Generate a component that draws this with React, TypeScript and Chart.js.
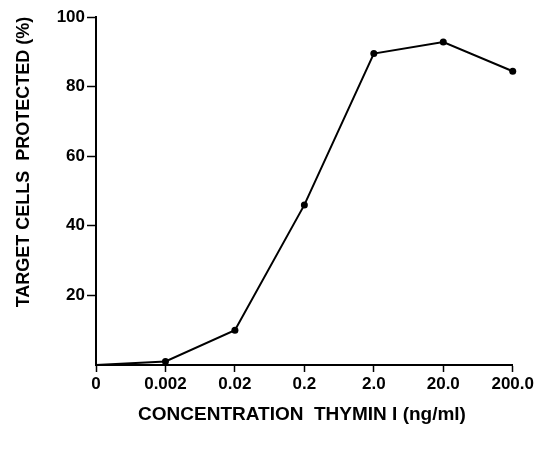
import React, { useEffect, useRef } from "react";
import { Chart, registerables } from "chart.js";

Chart.register(...registerables);

const categories = ["0", "0.002", "0.02", "0.2", "2.0", "20.0", "200.0"];
const protectedPct = [0, 1, 10, 46, 89.5, 92.8, 84.4];
const yTicks = [20, 40, 60, 80, 100];
const xTitle = "CONCENTRATION  THYMIN I (ng/ml)";
const yTitle = "TARGET CELLS  PROTECTED (%)";

const FONT = "'Liberation Sans', Arial, Helvetica, sans-serif";

const titlePlugin = {
  id: "customTitles",
  afterDraw(chart: any) {
    const ctx = chart.ctx;
    ctx.save();
    ctx.fillStyle = "#000";
    ctx.textAlign = "center";
    ctx.textBaseline = "middle";
    ctx.font = `bold 19px ${FONT}`;
    ctx.fillText(xTitle, 302, 415);
    ctx.translate(24, 162);
    ctx.rotate(-Math.PI / 2);
    ctx.font = `bold 18px ${FONT}`;
    ctx.fillText(yTitle, 0, 0);
    ctx.restore();
  },
};

export default function App() {
  const ref = useRef<HTMLCanvasElement | null>(null);
  useEffect(() => {
    if (!ref.current) return;
    const chart = new Chart(ref.current, {
      type: "line",
      data: {
        labels: categories,
        datasets: [
          {
            data: protectedPct,
            borderColor: "#000",
            backgroundColor: "#000",
            borderWidth: 2,
            pointRadius: protectedPct.map((_, i) => (i === 0 ? 0 : 3.5)),
            pointBackgroundColor: "#000",
            pointBorderWidth: 0,
            tension: 0,
            clip: false as any,
          },
        ],
      },
      options: {
        animation: false,
        responsive: false,
        layout: { padding: { left: 0, right: 23, top: 17, bottom: 0 } },
        plugins: { legend: { display: false }, tooltip: { enabled: false } },
        scales: {
          x: {
            type: "category",
            offset: false,
            grid: {
              drawOnChartArea: false,
              drawTicks: true,
              tickLength: 7,
              tickColor: "#000",
              tickWidth: 1.5,
            },
            border: { display: true, color: "#000", width: 2 },
            ticks: {
              color: "#000",
              font: { family: FONT, size: 17, weight: "bold" },
              maxRotation: 0,
              autoSkip: false,
              padding: 2,
            },
            afterFit: (s: any) => {
              s.height = 88;
            },
          },
          y: {
            min: 0,
            max: 100,
            afterBuildTicks: (s: any) => {
              s.ticks = [{ value: 0 }, ...yTicks.map((v) => ({ value: v }))];
            },
            grid: {
              drawOnChartArea: false,
              drawTicks: true,
              tickLength: 9,
              tickColor: (c: any) => (c.tick && c.tick.value === 0 ? "rgba(0,0,0,0)" : "#000"),
              tickWidth: 1.5,
            },
            border: { display: true, color: "#000", width: 2 },
            ticks: {
              color: "#000",
              font: { family: FONT, size: 17, weight: "bold" },
              padding: 2,
              callback: (v: any) => (v === 0 ? "" : String(v)),
            },
            afterFit: (s: any) => {
              s.width = 96;
            },
          },
        },
      },
      plugins: [titlePlugin],
    });
    return () => chart.destroy();
  }, []);
  return (
    <div style={{ position: "absolute", left: 0, top: 0, width: 536, height: 453, background: "#fff" }}>
      <canvas ref={ref} width={536} height={453} />
    </div>
  );
}
